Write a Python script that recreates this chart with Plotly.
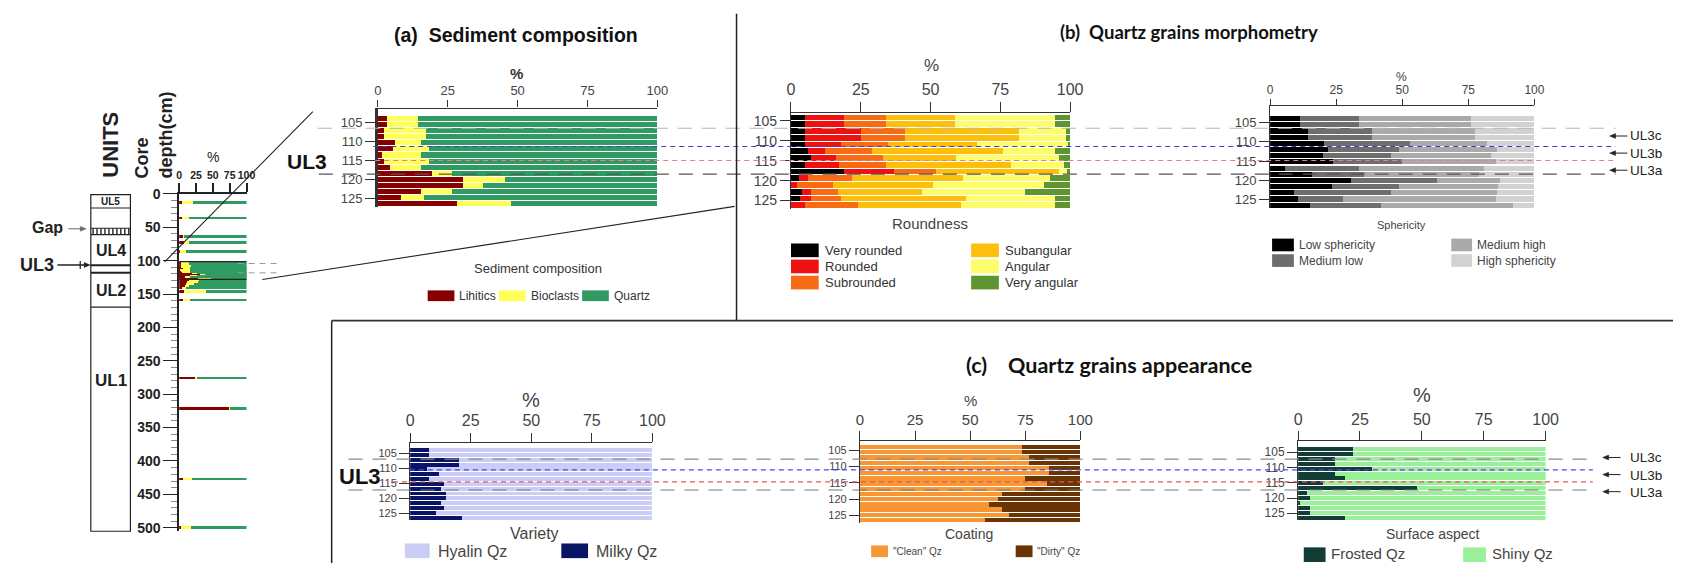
import plotly.graph_objects as go

W, H = 1686, 568
def fx(x): return x / W
def fy(y): return 1 - y / H

SANS = "Liberation Sans, Arial, sans-serif"
NARROW = "Liberation Sans Narrow, Liberation Sans, Arial, sans-serif"
LATO = "Lato, Liberation Sans, sans-serif"

# ---------------- DATA ----------------
# detailed samples (UL3 interval), core depth in cm
sample_depth = [104.0, 105.6, 107.2, 108.8, 110.4, 112.0, 113.6, 115.2, 116.8, 118.4, 120.0, 121.6, 123.2, 124.8, 126.4]
round_depth = [104.1, 105.8, 107.5, 109.2, 110.9, 112.6, 114.3, 116.0, 117.7, 119.4, 121.1, 122.8, 124.5, 126.2]

# (a) sediment composition (%)
lithics = [3.2, 3.2, 2.2, 2.2, 6.1, 5.3, 1.3, 2.2, 4.2, 19.3, 30.4, 30.4, 15.3, 8.3, 28.4]
bioclasts = [11.3, 11.3, 15.1, 15.1, 9.2, 13.0, 14.0, 16.1, 11.1, 7.2, 15.2, 7.2, 11.2, 8.1, 19.2]

# core log: isolated samples
core_depth = [13, 36, 64, 73, 86, 146, 159, 276, 321, 427, 500]
core_lithics = [4.4, 4.4, 6.8, 6.8, 1.0, 6.8, 5.8, 25.0, 75.5, 5.8, 2.9]
core_bioclasts = [15.6, 9.8, 0.7, 7.4, 9.8, 32.9, 10.8, 2.0, 0.5, 13.2, 14.7]
# core log: lower part of the dense UL3/UL2 block
block_depth = [129, 132, 135, 138, 141]
block_lithics = [14, 12, 10, 8, 4]
block_bioclasts = [16, 16, 12, 7, 6]

# (b) roundness (%)
very_rounded = [5.1, 5.1, 5.1, 5.1, 5.1, 6.0, 7.0, 5.1, 19.1, 3.0, 0.0, 3.9, 3.1, 0.0]
rounded = [14.0, 14.0, 19.9, 19.9, 12.8, 6.2, 9.3, 12.1, 17.9, 3.0, 2.1, 3.2, 4.0, 5.1]
subrounded = [14.8, 14.8, 15.8, 15.8, 17.0, 17.0, 16.8, 16.7, 15.0, 15.9, 13.1, 9.9, 10.9, 18.8]
subangular = [24.9, 24.9, 40.9, 40.9, 31.8, 46.7, 25.9, 44.8, 43.9, 39.8, 35.6, 29.9, 44.8, 36.9]
angular = [35.9, 35.9, 16.8, 16.8, 32.7, 18.8, 36.9, 19.2, 3.1, 31.1, 40.0, 36.8, 31.9, 33.9]
very_angular = [5.3, 5.3, 1.5, 1.5, 0.6, 5.3, 4.1, 2.1, 1.0, 7.2, 9.2, 16.3, 5.3, 5.3]

# (b) sphericity (%)
low_sph = [11.4, 11.4, 14.4, 14.4, 20.3, 21.8, 19.9, 23.8, 5.7, 15.7, 30.6, 23.6, 9.1, 10.6, 15.1]
medium_low = [22.4, 22.4, 24.3, 24.3, 32.5, 27.0, 25.8, 26.2, 28.1, 20.0, 32.6, 25.2, 36.6, 16.9, 26.8]
medium_high = [42.1, 42.1, 38.7, 38.7, 29.3, 37.1, 37.9, 35.3, 47.1, 43.3, 23.6, 37.3, 40.2, 57.8, 50.0]
high_sph = [24.1, 24.1, 22.6, 22.6, 17.9, 14.1, 16.4, 14.7, 19.1, 21.0, 13.2, 13.9, 14.1, 14.7, 8.1]

# (c) appearance (%)
milky = [7.8, 7.8, 20.0, 20.0, 6.9, 11.9, 7.8, 13.8, 12.8, 14.9, 14.9, 12.8, 13.8, 10.8, 21.3]
clean = [73.5, 73.5, 76.8, 76.8, 85.9, 85.9, 74.7, 85.0, 74.7, 64.5, 62.6, 58.5, 64.5, 67.5, 56.7]
frosted = [22.1, 22.1, 14.9, 14.9, 30.0, 14.9, 18.8, 9.9, 48.1, 3.7, 4.9, 0.7, 4.9, 4.9, 18.8]

pct_ticks = [0, 25, 50, 75, 100]
depth_ticks = [105, 110, 115, 120, 125]
core_depth_ticks = [0, 50, 100, 150, 200, 250, 300, 350, 400, 450, 500]
sub_units = ["UL3c", "UL3b", "UL3a"]

# ---------------- FIGURE ----------------
fig = go.Figure()
layout = {}
shapes = []
annotations = []

def text(x, y, s, size=13, color="#222", family=SANS, bold=False, xanchor="center",
         yanchor="middle", angle=0, align="center"):
    annotations.append(dict(x=fx(x), y=fy(y), xref="paper", yref="paper", text=s, showarrow=False,
                            font=dict(family=family, size=size, color=color,
                                      weight="bold" if bold else "normal"),
                            xanchor=xanchor, yanchor=yanchor, textangle=angle, align=align,
                            borderpad=0))

def pline(x0, y0, x1, y1, color="#222", width=1.2, dash="solid"):
    shapes.append(dict(type="line", xref="paper", yref="paper", x0=fx(x0), y0=fy(y0),
                       x1=fx(x1), y1=fy(y1), line=dict(color=color, width=width, dash=dash),
                       layer="above"))

def prect(x0, y0, x1, y1, fill, line_color=None, lw=0):
    shapes.append(dict(type="rect", xref="paper", yref="paper", x0=fx(x0), y0=fy(y0),
                       x1=fx(x1), y1=fy(y1), fillcolor=fill,
                       line=dict(color=line_color or fill, width=lw), layer="above"))

def arrow_left(x_tail, x_head, y, color="#222", width=1.0):
    pline(x_tail, y, x_head + 3, y, color=color, width=width)
    p = "M %f,%f L %f,%f L %f,%f Z" % (fx(x_head), fy(y), fx(x_head + 6), fy(y - 2.5),
                                       fx(x_head + 6), fy(y + 2.5))
    shapes.append(dict(type="path", xref="paper", yref="paper", path=p, fillcolor=color,
                       line=dict(color=color, width=0.5), layer="above"))

def arrow_right(x_tail, x_head, y, color="#222", width=1.0):
    pline(x_tail, y, x_head - 3, y, color=color, width=width)
    p = "M %f,%f L %f,%f L %f,%f Z" % (fx(x_head), fy(y), fx(x_head - 6), fy(y - 2.5),
                                       fx(x_head - 6), fy(y + 2.5))
    shapes.append(dict(type="path", xref="paper", yref="paper", path=p, fillcolor=color,
                       line=dict(color=color, width=0.5), layer="above"))

def panel(n, x0, x100, y_axis, y_top, y_bot, d_top, d_bot, xsize, ysize, ticklen_x=7,
          ticklen_y=10, ylinew=1.2):
    s = (y_bot - y_top) / (d_bot - d_top)
    r_top = d_top - (y_top - y_axis) / s
    xa = "xaxis%d" % n
    ya = "yaxis%d" % n
    xr = "x%d" % n
    yr = "y%d" % n
    layout[xa] = dict(domain=[fx(x0), fx(x100)], range=[0, 100], anchor=yr, side="top",
                      tickvals=pct_ticks, ticks="outside", ticklen=ticklen_x, tickwidth=1.3,
                      tickcolor="#333", showline=True, linecolor="#333", linewidth=1.3,
                      showgrid=False, zeroline=False, tickangle=0,
                      tickfont=dict(family=SANS, size=xsize, color="#444"), fixedrange=True)
    layout[ya] = dict(domain=[fy(y_bot), fy(y_axis)], range=[d_bot, r_top], anchor=xr,
                      tickvals=depth_ticks, ticks="outside", ticklen=ticklen_y, tickwidth=1.2,
                      tickcolor="#333", showline=True, linecolor="#333", linewidth=ylinew,
                      showgrid=False, zeroline=False,
                      tickfont=dict(family=NARROW, size=ysize, color="#444"), fixedrange=True)
    return xr, yr

def stack(xr, yr, depths, series, colors, width):
    for vals, col in zip(series, colors):
        fig.add_trace(go.Bar(orientation="h", x=vals, y=depths, width=width,
                             marker=dict(color=col, line=dict(width=0)),
                             xaxis=xr, yaxis=yr, showlegend=False, hoverinfo="skip"))

C_LIT, C_BIO, C_QTZ = "#860000", "#ffff55", "#2f9a62"

# ---- core log (axis 1) ----
layout["xaxis"] = dict(domain=[fx(177), fx(245)], range=[0, 100], anchor="y", side="top",
                       tickvals=pct_ticks, ticktext=["0", "25", "50", "75", "100"],
                       ticks="outside", ticklen=9, tickwidth=1.5, tickcolor="#222",
                       showline=True, linecolor="#222", linewidth=1.5, showgrid=False,
                       zeroline=False, tickangle=0,
                       tickfont=dict(family=SANS, size=10.5, color="#222", weight="bold"),
                       fixedrange=True)
layout["yaxis"] = dict(domain=[fy(535), fy(190.2)], range=[504.5, 0], anchor="x",
                       tickvals=core_depth_ticks, ticks="outside", ticklen=14, tickwidth=1.3,
                       tickcolor="#222", showline=True, linecolor="#222", linewidth=1.5,
                       showgrid=False, zeroline=False,
                       minor=dict(dtick=10, ticks="outside", ticklen=6, tickcolor="#888",
                                  tickwidth=1),
                       tickfont=dict(family=SANS, size=14, color="#222", weight="bold"),
                       fixedrange=True)
quartz_a = [100 - l - b for l, b in zip(lithics, bioclasts)]
blk_q = [100 - l - b for l, b in zip(block_lithics, block_bioclasts)]
core_q = [100 - l - b for l, b in zip(core_lithics, core_bioclasts)]
stack("x", "y", sample_depth, [lithics, bioclasts, quartz_a], [C_LIT, C_BIO, C_QTZ], 1.7)
stack("x", "y", block_depth, [block_lithics, block_bioclasts, blk_q], [C_LIT, C_BIO, C_QTZ], 3.2)
stack("x", "y", core_depth, [core_lithics, core_bioclasts, core_q], [C_LIT, C_BIO, C_QTZ], 4.0)
# zoom rectangle and connector lines
shapes.append(dict(type="rect", xref="x", yref="y", x0=-21.6, x1=123.5, y0=101.6, y1=128,
                   line=dict(color="#222", width=1.2), fillcolor="rgba(0,0,0,0)", layer="above"))
pline(162.3, 259.8, 312, 106, width=1.1)
pline(261, 277.9, 738, 203, width=1.1)
pline(236, 261.5, 277, 261.5, color="#999", width=1, dash="6px,5px")
pline(236, 271, 277, 271, color="#999", width=1, dash="6px,5px")
text(211, 153, "%", size=14, color="#222")
text(151, 130, "Core<br>depth(cm)", size=18, bold=True, angle=-90, align="left")
text(108, 140, "UNITS", size=22, bold=True, angle=-90)

# units column
prect(87.7, 191, 127.7, 535.5, "rgba(0,0,0,0)", line_color="#222", lw=1.2)
for yy, lw in [(204.7, 1.2), (225.4, 1.2), (231.9, 1.2), (263.4, 2.0), (271, 2.0), (306.2, 1.2)]:
    pline(87.7, yy, 127.7, yy, width=lw)
hatch = " ".join("M %f,%f L %f,%f" % (fx(x), fy(225.4), fx(x), fy(231.9))
                 for x in [90 + 4 * i for i in range(10)])
shapes.append(dict(type="path", xref="paper", yref="paper", path=hatch,
                   line=dict(color="#333", width=1.5), layer="above"))
text(107.7, 198, "UL5", size=10, bold=True)
text(107.7, 248, "UL4", size=16, bold=True)
text(107.7, 289, "UL2", size=16, bold=True)
text(107.7, 381, "UL1", size=17, bold=True)
text(44, 225, "Gap", size=16, bold=True)
arrow_right(65, 83, 226, color="#666")
text(33, 263, "UL3", size=18, bold=True)
arrow_right(54, 87, 263, color="#222", width=1.5)
pline(77, 259, 77, 267, width=1.2)

# ---- (a) sediment composition (axis 2) ----
xr, yr = panel(2, 377.7, 660, 103, 110, 203.3, 103.2, 127.2, 13, 13, ticklen_x=7, ylinew=2.5)
stack(xr, yr, sample_depth, [lithics, bioclasts, quartz_a], [C_LIT, C_BIO, C_QTZ], 1.33)
text(517, 28, "(a)&nbsp;&nbsp;Sediment composition", size=19.5, bold=True, color="#111")
text(518, 67, "%", size=15, bold=True, color="#333")
text(306, 157, "UL3", size=21, bold=True, color="#111")
text(539, 267, "Sediment composition", size=13, color="#333")
for x0, col, lab in [(428, C_LIT, "Lihitics"), (500, C_BIO, "Bioclasts"), (584, C_QTZ, "Quartz")]:
    prect(x0, 289, x0 + 27, 300, col)
    text(x0 + 31, 295, lab, size=12, color="#333", xanchor="left")

# ---- (b) roundness (axis 3) ----
R_COLS = ["#000000", "#ee1111", "#f76b15", "#fcbf0b", "#fdfd6b", "#5f9531"]
xr, yr = panel(3, 795, 1077, 107.3, 108.3, 206, 103.2, 127.2, 16, 14, ticklen_x=10)
stack(xr, yr, round_depth,
      [very_rounded, rounded, subrounded, subangular, angular, very_angular], R_COLS, 1.45)
text(1197, 25, "(b)&nbsp;&nbsp;Quartz grains morphometry", size=18.5, bold=True, color="#111",
     family=LATO)
text(937, 59, "%", size=17, color="#444")
text(935, 221, "Roundness", size=15, color="#444")
for i, (col, lab) in enumerate(zip(R_COLS[:3], ["Very rounded", "Rounded", "Subrounded"])):
    yy = 248 + 16.5 * i
    prect(795, yy - 7, 823, yy + 7, col)
    text(828, yy, lab, size=13, color="#333", xanchor="left")
for i, (col, lab) in enumerate(zip(R_COLS[3:], ["Subangular", "Angular", "Very angular"])):
    yy = 248 + 16.5 * i
    prect(977, yy - 7, 1005, yy + 7, col)
    text(1010, yy, lab, size=13, color="#333", xanchor="left")

# ---- (b) sphericity (axis 4) ----
S_COLS = ["#000000", "#6e6e6e", "#aaaaaa", "#d2d2d2"]
xr, yr = panel(4, 1279, 1546, 100.5, 110, 205, 103.2, 127.2, 12, 13, ticklen_x=6)
stack(xr, yr, sample_depth, [low_sph, medium_low, medium_high, high_sph], S_COLS, 1.33)
text(1412, 71, "%", size=12, color="#444")
text(1412, 222, "Sphericity", size=11, color="#444")
for i, (col, lab) in enumerate(zip(S_COLS[:2], ["Low sphericity", "Medium low"])):
    yy = 242.5 + 16 * i
    prect(1281, yy - 6.5, 1303, yy + 6.5, col)
    text(1307, yy, lab, size=12, color="#444", xanchor="left", family=NARROW)
for i, (col, lab) in enumerate(zip(S_COLS[2:], ["Medium high", "High sphericity"])):
    yy = 242.5 + 16 * i
    prect(1462, yy - 6.5, 1483, yy + 6.5, col)
    text(1487, yy, lab, size=12, color="#444", xanchor="left", family=NARROW)

# ---- (c) variety (axis 5) ----
C_HYA, C_MIL = "#cccdf6", "#0a1466"
hyalin = [100 - m for m in milky]
xr, yr = panel(5, 410.3, 655, 445, 450, 524, 103.2, 127.2, 16, 11, ticklen_x=9)
stack(xr, yr, sample_depth, [milky, hyalin], [C_MIL, C_HYA], 1.3)
text(1116, 365, "(c)&nbsp;&nbsp;&nbsp;&nbsp;Quartz grains appearance", size=21.5, bold=True,
     color="#111", family=LATO)
text(532, 401, "%", size=20, color="#444")
text(360, 479, "UL3", size=22, bold=True, color="#111")
text(536, 538, "Variety", size=16, color="#444")
prect(405, 548, 430, 563, C_HYA)
text(437, 556, "Hyalin Qz", size=16, color="#444", xanchor="left")
prect(563, 548, 590, 563, C_MIL)
text(597, 556, "Milky Qz", size=16, color="#444", xanchor="left")

# ---- (c) coating (axis 6) ----
C_CLE, C_DIR = "#f69635", "#6a3505"
dirty = [100 - c for c in clean]
xr, yr = panel(6, 864.7, 1087.3, 443, 446.7, 526.7, 103.2, 127.2, 15, 11, ticklen_x=9)
stack(xr, yr, sample_depth, [clean, dirty], [C_CLE, C_DIR], 1.33)
text(976, 402, "%", size=15, color="#444")
text(975, 538, "Coating", size=14, color="#444")
prect(876, 550, 893, 562, C_CLE)
text(897, 556, "\"Clean\" Qz", size=10, color="#444", xanchor="left")
prect(1022, 550, 1039, 562, C_DIR)
text(1043, 556, "\"Dirty\" Qz", size=10, color="#444", xanchor="left")

# ---- (c) surface aspect (axis 7) ----
C_FRO, C_SHI = "#123d36", "#99f099"
shiny = [100 - f for f in frosted]
xr, yr = panel(7, 1307.3, 1557.3, 443.3, 449, 524, 103.2, 127.2, 16, 12, ticklen_x=9)
stack(xr, yr, sample_depth, [frosted, shiny], [C_FRO, C_SHI], 1.3)
text(1432, 396, "%", size=20, color="#444")
text(1443, 538, "Surface aspect", size=14, color="#444")
prect(1313, 552, 1335, 567, C_FRO)
text(1340, 558, "Frosted Qz", size=15, color="#444", xanchor="left")
prect(1474, 552, 1497, 567, C_SHI)
text(1502, 558, "Shiny Qz", size=15, color="#444", xanchor="left")

# ---- dashed UL3 boundaries ----
for yy, xs, col, dash in [(123, 317, "#b5b5b5", "14px,10px"), (141.7, 373, "#3b3be0", "5px,4px"),
                          (156, 375, "#e88080", "5px,4px"), (170, 318, "#555555", "14px,10px")]:
    pline(xs, yy, 1628, yy, color=col, width=1.1, dash=dash)
for yy, xs, col, dash in [(461.7, 348, "#8a8a8a", "14px,10px"), (472.7, 410, "#4a4ae6", "5px,4px"),
                          (485, 393, "#e05a5a", "5px,4px"), (493.3, 348, "#777777", "14px,10px")]:
    pline(xs, yy, 1605, yy, color=col, width=1.1, dash=dash)
for yy in [131, 148.5, 166]:
    arrow_left(1640, 1622, yy)
text(1642, 148.5, "<br>".join(sub_units), size=13.5, color="#222", xanchor="left", align="left")
for yy in [460, 477.5, 495]:
    arrow_left(1633, 1615, yy)
text(1642, 477.5, "<br>".join(sub_units), size=13.5, color="#222", xanchor="left", align="left")

# ---- frame lines ----
pline(740, 6, 740, 320, color="#222", width=1.5)
pline(331, 320, 1686, 320, color="#333", width=1.8)
pline(331, 320, 331, 568, color="#222", width=1.5)

fig.update_layout(**layout)
fig.update_layout(width=W, height=H, margin=dict(l=0, r=0, t=0, b=0), barmode="stack",
                  plot_bgcolor="white", paper_bgcolor="white", shapes=shapes,
                  annotations=annotations, showlegend=False)
fig.write_html("out.html", config={"displayModeBar": False})
